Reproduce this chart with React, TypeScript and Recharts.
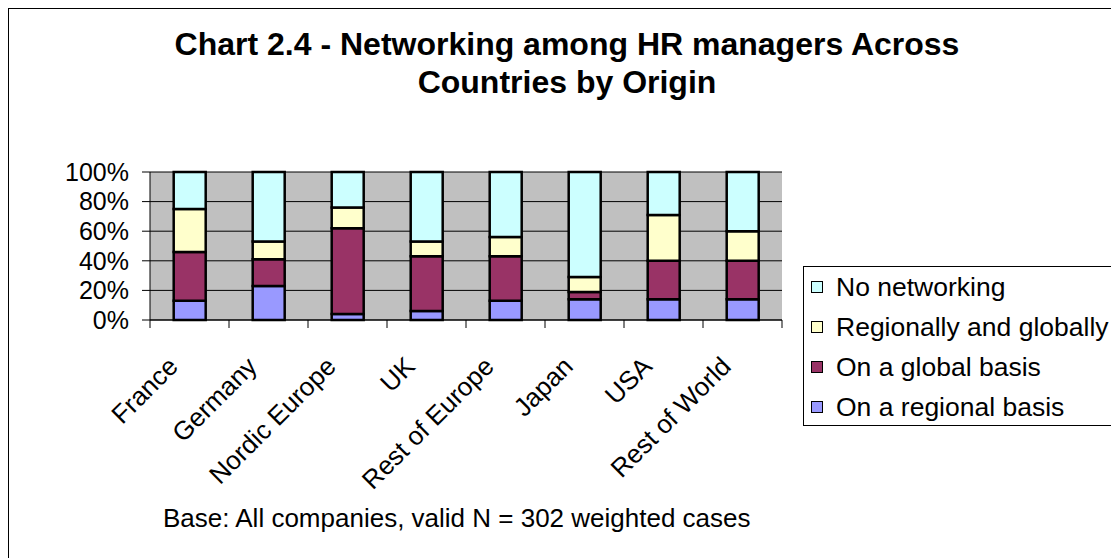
import React from 'react';
import { BarChart, Bar, XAxis, YAxis, CartesianGrid } from 'recharts';

const categories = ['France', 'Germany', 'Nordic Europe', 'UK', 'Rest of Europe', 'Japan', 'USA', 'Rest of World'];
const regionalBasis = [13, 23, 4, 6, 13, 14, 14, 14];
const globalBasis = [33, 18, 58, 37, 30, 5, 26, 26];
const regionallyAndGlobally = [29, 12, 14, 10, 13, 10, 31, 20];
const noNetworking = [25, 47, 24, 47, 44, 71, 29, 40];
const yTicks = [0, 0.2, 0.4, 0.6, 0.8, 1];

const seriesKeys = ['regional', 'global', 'both', 'none'];
const seriesNames = ['On a regional basis', 'On a global basis', 'Regionally and globally', 'No networking'];
const seriesColors = ['#9999FF', '#993366', '#FFFFCC', '#CCFFFF'];

const data = categories.map((name, i) => ({
  name,
  regional: regionalBasis[i],
  global: globalBasis[i],
  both: regionallyAndGlobally[i],
  none: noNetworking[i],
}));

const FONT = '"Liberation Sans", Arial, sans-serif';

const CatTick = (props: any) => {
  const { x, y, payload, index, width } = props;
  const n = categories.length;
  const band = width && width > 0 ? width / n : 79;
  const px = x - 10;
  const py = y + 48;
  return (
    <g>
      <line x1={x - band / 2} y1={y} x2={x - band / 2} y2={y + 8} stroke="#000" strokeWidth={1} />
      {index === n - 1 && (
        <line x1={x + band / 2} y1={y} x2={x + band / 2} y2={y + 8} stroke="#000" strokeWidth={1} />
      )}
      <text
        x={px}
        y={py}
        textAnchor="end"
        transform={`rotate(-45 ${px} ${py})`}
        fontSize={26}
        fontFamily={FONT}
        fill="#000"
      >
        {payload.value}
      </text>
    </g>
  );
};

export default function App() {
  const legendOrder = [3, 2, 1, 0];
  return (
    <div
      style={{
        position: 'relative',
        width: 1111,
        height: 550,
        boxSizing: 'border-box',
        borderLeft: '1px solid #000',
        borderTop: '1px solid #000',
        background: '#fff',
        fontFamily: FONT,
        overflow: 'hidden',
      }}
    >
      <div
        style={{
          position: 'absolute',
          left: 0,
          top: 16,
          width: 1116,
          textAlign: 'center',
          fontWeight: 'bold',
          fontSize: 32,
          lineHeight: '38px',
          color: '#000',
        }}
      >
        Chart 2.4 - Networking among HR managers Across
        <br />
        Countries by Origin
      </div>
      <BarChart
        width={1110}
        height={549}
        data={data}
        stackOffset="expand"
        barCategoryGap="30%"
        margin={{ top: 163, right: 337, bottom: 208, left: 0 }}
      >
        <CartesianGrid vertical={false} stroke="#000" strokeWidth={1} fill="#C0C0C0" fillOpacity={1} />
        <XAxis
          dataKey="name"
          interval={0}
          height={30}
          tickSize={0}
          tickMargin={0}
          tickLine={false}
          axisLine={{ stroke: '#000', strokeWidth: 1 }}
          tick={<CatTick />}
        />
        <YAxis
          domain={[0, 1]}
          ticks={yTicks}
          interval={0}
          width={141}
          tickSize={8}
          tickMargin={13}
          tickFormatter={(v: number) => `${Math.round(v * 100)}%`}
          tick={{ fontSize: 25, fill: '#000', fontFamily: FONT }}
          axisLine={{ stroke: '#000', strokeWidth: 1 }}
          tickLine={{ stroke: '#000', strokeWidth: 1 }}
        />
        <YAxis
          yAxisId="r"
          orientation="right"
          domain={[0, 1]}
          width={0}
          tick={false}
          tickLine={false}
          allowDataOverflow
          axisLine={{ stroke: '#808080', strokeWidth: 1 }}
        />
        {seriesKeys.map((k, i) => (
          <Bar
            key={k}
            dataKey={k}
            name={seriesNames[i]}
            stackId="a"
            fill={seriesColors[i]}
            stroke="#000"
            strokeWidth={2.5}
            isAnimationActive={false}
          />
        ))}
      </BarChart>
      <div
        style={{
          position: 'absolute',
          left: 794,
          top: 257,
          width: 310,
          height: 160,
          boxSizing: 'border-box',
          border: '1px solid #000',
          background: '#fff',
          paddingTop: 0,
        }}
      >
        {legendOrder.map((i) => (
          <div
            key={seriesKeys[i]}
            style={{ display: 'flex', alignItems: 'center', height: 40, paddingLeft: 7 }}
          >
            <span
              style={{
                display: 'inline-block',
                width: 10,
                height: 10,
                background: seriesColors[i],
                border: '1.5px solid #000',
                flex: 'none',
              }}
            />
            <span style={{ fontSize: 26.5, marginLeft: 13, color: '#000', whiteSpace: 'nowrap' }}>
              {seriesNames[i]}
            </span>
          </div>
        ))}
      </div>
      <div
        style={{
          position: 'absolute',
          left: 154,
          top: 494,
          fontSize: 26,
          lineHeight: '30px',
          color: '#000',
          whiteSpace: 'nowrap',
        }}
      >
        Base: All companies, valid N = 302 weighted cases
      </div>
    </div>
  );
}
